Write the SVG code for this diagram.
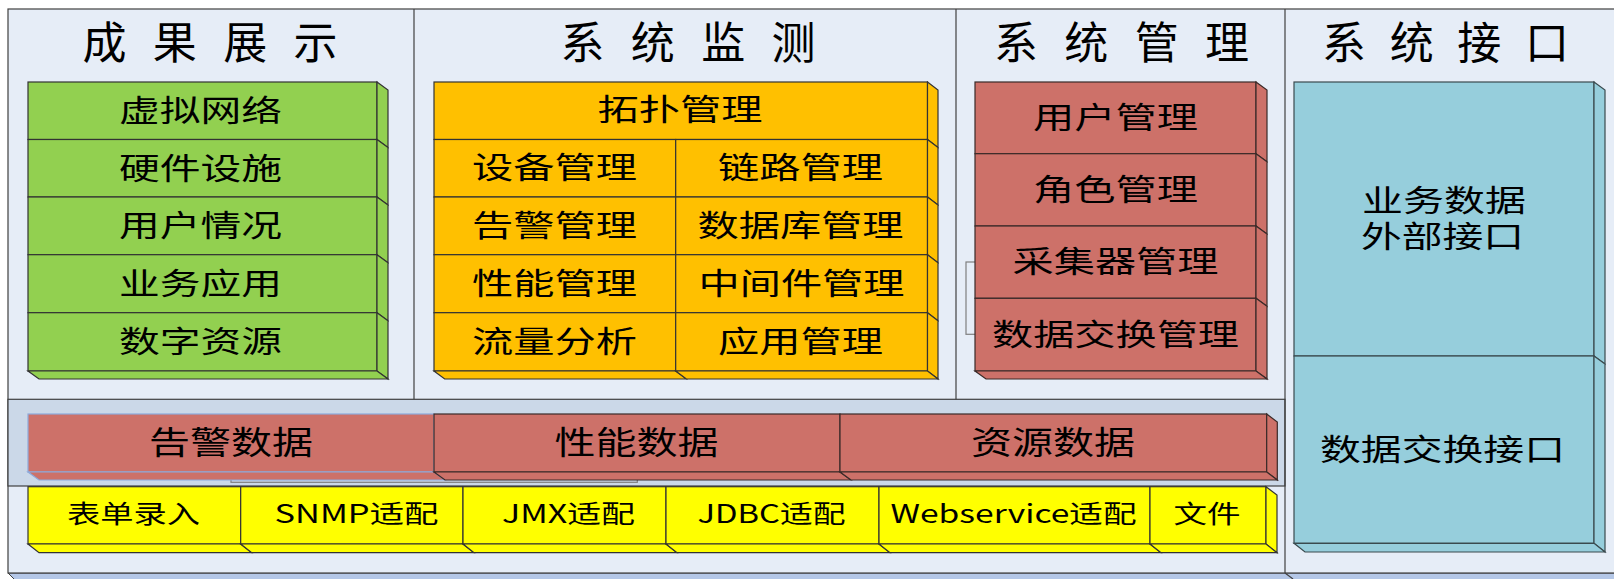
<svg xmlns="http://www.w3.org/2000/svg" width="1614" height="579" viewBox="0 0 1614 579">
<style>
text{font-family:"Noto Sans CJK SC","Noto Sans",sans-serif;fill:#000;text-anchor:middle}
.t{font-size:44px}
.m{font-size:30px}
.b{font-size:32px}
.y{font-size:25px}
.frame{fill:#e6edf7;stroke:#404040;stroke-width:1.2}
.band{fill:#cbd8e8;stroke:#404040;stroke-width:1.2}
.ln{stroke:#404040;stroke-width:1.2;fill:none}
.grn{fill:#92d050;stroke:#333;stroke-width:1.2}
.org{fill:#ffc000;stroke:#333;stroke-width:1.2}
.red{fill:#cd7169;stroke:#3a2a28;stroke-width:1.2}
.redsel{fill:#cd7169;stroke:#8eaadb;stroke-width:1.2}
.tea{fill:#96cedc;stroke:#3a4a4e;stroke-width:1.2}
.yel{fill:#ffff00;stroke:#333;stroke-width:1.2}
.gray{fill:none;stroke:#7f7f7f;stroke-width:1.2}
</style>

<g id="frame">
  <polygon points="8,573 1620,573 1620,582 17,582" fill="#b4c7e7" stroke="#404040" stroke-width="1"/>
  <rect class="frame" x="8" y="9" width="1620" height="564"/>
  <rect class="band" x="8" y="399.3" width="1277" height="86.7"/>
  <line class="ln" x1="414" y1="9" x2="414" y2="399.3"/>
  <line class="ln" x1="956" y1="9" x2="956" y2="399.3"/>
  <line class="ln" x1="1285" y1="9" x2="1285" y2="573"/>
  <line class="ln" x1="1285" y1="573" x2="1293" y2="579"/>
</g>

<g id="titles">
  <text class="t" x="210" y="58.5" textLength="255" lengthAdjust="spacing">成果展示</text>
  <text class="t" x="688" y="58.5" textLength="255" lengthAdjust="spacing">系统监测</text>
  <text class="t" x="1121.5" y="58.5" textLength="255" lengthAdjust="spacing">系统管理</text>
  <text class="t" x="1445.5" y="58.5" textLength="247" lengthAdjust="spacing">系统接口</text>
</g>

<g id="n-results">
  <rect class="grn" x="28" y="82" width="349" height="57.5"/>
  <polygon class="grn" points="377,82 388,90 388,147.5 377,139.5"/>
  <rect class="grn" x="28" y="139.5" width="349" height="57.5"/>
  <polygon class="grn" points="377,139.5 388,147.5 388,205 377,197"/>
  <rect class="grn" x="28" y="197" width="349" height="57.7"/>
  <polygon class="grn" points="377,197 388,205 388,262.7 377,254.7"/>
  <rect class="grn" x="28" y="254.7" width="349" height="58"/>
  <polygon class="grn" points="377,254.7 388,262.7 388,320.7 377,312.7"/>
  <rect class="grn" x="28" y="312.7" width="349" height="58.3"/>
  <polygon class="grn" points="377,312.7 388,320.7 388,379 377,371"/>
  <polygon class="grn" points="28,371 377,371 388,379 39,379"/>
  <text class="m" x="200.5" y="121" textLength="163" lengthAdjust="spacingAndGlyphs">虚拟网络</text>
  <text class="m" x="200.5" y="178.6" textLength="163" lengthAdjust="spacingAndGlyphs">硬件设施</text>
  <text class="m" x="200.5" y="236.3" textLength="163" lengthAdjust="spacingAndGlyphs">用户情况</text>
  <text class="m" x="200.5" y="294.1" textLength="163" lengthAdjust="spacingAndGlyphs">业务应用</text>
  <text class="m" x="200.5" y="352" textLength="163" lengthAdjust="spacingAndGlyphs">数字资源</text>
</g>

<g id="n-monitor">
  <rect class="org" x="434" y="82" width="493.5" height="57.5"/>
  <polygon class="org" points="927.5,82 938,90 938,147.5 927.5,139.5"/>
  <rect class="org" x="434" y="139.5" width="241.7" height="57.5"/>
  <rect class="org" x="675.7" y="139.5" width="251.8" height="57.5"/>
  <polygon class="org" points="927.5,139.5 938,147.5 938,205 927.5,197"/>
  <rect class="org" x="434" y="197" width="241.7" height="57.7"/>
  <rect class="org" x="675.7" y="197" width="251.8" height="57.7"/>
  <polygon class="org" points="927.5,197 938,205 938,262.7 927.5,254.7"/>
  <rect class="org" x="434" y="254.7" width="241.7" height="58"/>
  <rect class="org" x="675.7" y="254.7" width="251.8" height="58"/>
  <polygon class="org" points="927.5,254.7 938,262.7 938,320.7 927.5,312.7"/>
  <rect class="org" x="434" y="312.7" width="241.7" height="58.3"/>
  <polygon class="org" points="434,371 675.7,371 686.4,379 444.7,379"/>
  <rect class="org" x="675.7" y="312.7" width="251.8" height="58.3"/>
  <polygon class="org" points="927.5,312.7 938,320.7 938,379 927.5,371"/>
  <polygon class="org" points="675.7,371 927.5,371 938,379 686.4,379"/>
  <text class="m" x="680" y="120.4" textLength="165" lengthAdjust="spacingAndGlyphs">拓扑管理</text>
  <text class="m" x="554.5" y="178" textLength="165" lengthAdjust="spacingAndGlyphs">设备管理</text>
  <text class="m" x="800.5" y="178" textLength="165" lengthAdjust="spacingAndGlyphs">链路管理</text>
  <text class="m" x="554.5" y="236" textLength="165" lengthAdjust="spacingAndGlyphs">告警管理</text>
  <text class="m" x="800.5" y="236" textLength="206" lengthAdjust="spacingAndGlyphs">数据库管理</text>
  <text class="m" x="554.5" y="294" textLength="165" lengthAdjust="spacingAndGlyphs">性能管理</text>
  <text class="m" x="801.5" y="294" textLength="206" lengthAdjust="spacingAndGlyphs">中间件管理</text>
  <text class="m" x="554.5" y="352" textLength="165" lengthAdjust="spacingAndGlyphs">流量分析</text>
  <text class="m" x="800.5" y="352" textLength="165" lengthAdjust="spacingAndGlyphs">应用管理</text>
</g>

<g id="n-manage">
  <rect class="gray" x="966" y="262" width="20" height="72.3"/>
  <rect class="red" x="975" y="82" width="281" height="71.7"/>
  <polygon class="red" points="1256,82 1267,90 1267,161.7 1256,153.7"/>
  <rect class="red" x="975" y="153.7" width="281" height="72.3"/>
  <polygon class="red" points="1256,153.7 1267,161.7 1267,234 1256,226"/>
  <rect class="red" x="975" y="226" width="281" height="72.3"/>
  <polygon class="red" points="1256,226 1267,234 1267,306.3 1256,298.3"/>
  <rect class="red" x="975" y="298.3" width="281" height="72.7"/>
  <polygon class="red" points="1256,298.3 1267,306.3 1267,379 1256,371"/>
  <polygon class="red" points="975,371 1256,371 1267,379 986,379"/>
  <text class="m" x="1115.5" y="128" textLength="165" lengthAdjust="spacingAndGlyphs">用户管理</text>
  <text class="m" x="1115.5" y="199.8" textLength="165" lengthAdjust="spacingAndGlyphs">角色管理</text>
  <text class="m" x="1115.5" y="271.5" textLength="206" lengthAdjust="spacingAndGlyphs">采集器管理</text>
  <text class="m" x="1115.5" y="345" textLength="247" lengthAdjust="spacingAndGlyphs">数据交换管理</text>
</g>

<g id="n-interface">
  <rect class="tea" x="1294" y="82" width="300" height="274"/>
  <polygon class="tea" points="1594,82 1605,90 1605,364 1594,356"/>
  <rect class="tea" x="1294" y="356" width="300" height="187.3"/>
  <polygon class="tea" points="1594,356 1605,364 1605,552 1594,543.3"/>
  <polygon class="tea" points="1294,543.3 1594,543.3 1605,552 1305,552"/>
  <text class="m" x="1444" y="211.4" textLength="164" lengthAdjust="spacingAndGlyphs">业务数据</text>
  <text class="m" x="1442.5" y="247.4" textLength="163" lengthAdjust="spacingAndGlyphs">外部接口</text>
  <text class="m" x="1442.5" y="460" textLength="245" lengthAdjust="spacingAndGlyphs">数据交换接口</text>
</g>

<g id="n-data">
  <rect class="gray" x="231" y="472" width="406.3" height="10.3"/>
  <rect class="redsel" x="28" y="414" width="406" height="58"/>
  <polygon class="redsel" points="28,472 434,472 445,480 39,480"/>
  <rect class="red" x="434" y="414" width="406" height="58"/>
  <polygon class="red" points="434,472 840,472 851,480 445,480"/>
  <rect class="red" x="840" y="414" width="426.7" height="58"/>
  <polygon class="red" points="1266.7,414 1277.3,422 1277.3,480 1266.7,472"/>
  <polygon class="red" points="840,472 1266.7,472 1277.3,480 851,480"/>
  <text class="b" x="231" y="453.7" textLength="164" lengthAdjust="spacingAndGlyphs">告警数据</text>
  <text class="b" x="636.5" y="453.7" textLength="164" lengthAdjust="spacingAndGlyphs">性能数据</text>
  <text class="b" x="1053" y="453.7" textLength="164" lengthAdjust="spacingAndGlyphs">资源数据</text>
</g>

<g id="n-adapters">
  <rect class="yel" x="28" y="486.7" width="212.7" height="57.3"/>
  <polygon class="yel" points="28,544 240.7,544 251.7,552.7 39,552.7"/>
  <rect class="yel" x="240.7" y="486.7" width="222.3" height="57.3"/>
  <polygon class="yel" points="240.7,544 463,544 474,552.7 251.7,552.7"/>
  <rect class="yel" x="463" y="486.7" width="203" height="57.3"/>
  <polygon class="yel" points="463,544 666,544 677,552.7 474,552.7"/>
  <rect class="yel" x="666" y="486.7" width="213" height="57.3"/>
  <polygon class="yel" points="666,544 879,544 890,552.7 677,552.7"/>
  <rect class="yel" x="879" y="486.7" width="271" height="57.3"/>
  <polygon class="yel" points="879,544 1150,544 1161,552.7 890,552.7"/>
  <rect class="yel" x="1150" y="486.7" width="116" height="57.3"/>
  <polygon class="yel" points="1266,486.7 1277,495 1277,552.7 1266,544"/>
  <polygon class="yel" points="1150,544 1266,544 1277,552.7 1161,552.7"/>
  <text class="y" x="133.5" y="522.8" textLength="133" lengthAdjust="spacingAndGlyphs">表单录入</text>
  <text class="y" x="356.5" y="522.8" textLength="164" lengthAdjust="spacingAndGlyphs">SNMP适配</text>
  <text class="y" x="568.5" y="522.8" textLength="133" lengthAdjust="spacingAndGlyphs">JMX适配</text>
  <text class="y" x="771.5" y="522.8" textLength="148" lengthAdjust="spacingAndGlyphs">JDBC适配</text>
  <text class="y" x="1013.5" y="522.8" textLength="246" lengthAdjust="spacingAndGlyphs">Webservice适配</text>
  <text class="y" x="1207" y="522.8" textLength="67" lengthAdjust="spacingAndGlyphs">文件</text>
</g>
</svg>
